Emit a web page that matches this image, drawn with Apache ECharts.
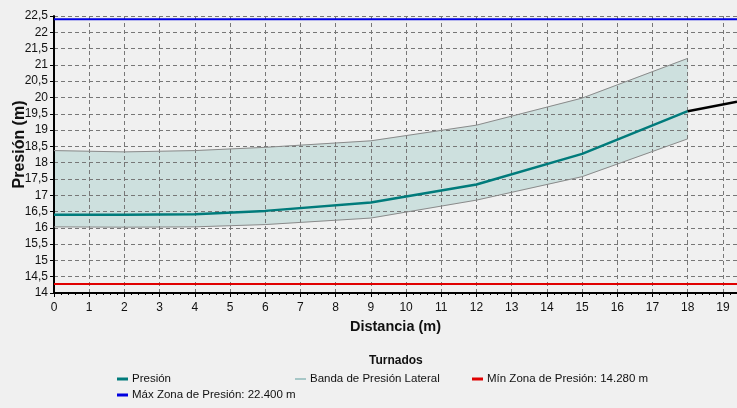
<!DOCTYPE html>
<html><head><meta charset="utf-8">
<script src="https://cdn.jsdelivr.net/npm/echarts@6/dist/echarts.min.js"></script>
<style>html,body{margin:0;padding:0;background:#f0f0f0}#c{width:737px;height:408px}</style>
</head><body><div id="c"></div>
<script>
const distancia = [0, 2, 4, 6, 9, 12, 15, 18];
const presion   = [16.4, 16.4, 16.42, 16.52, 16.78, 17.33, 18.27, 19.58];
const bandaSup  = [18.37, 18.33, 18.37, 18.47, 18.67, 19.15, 19.98, 21.2];
const bandaInf  = [16.03, 16.02, 16.03, 16.1, 16.3, 16.85, 17.57, 18.73];
const colaX     = [18, 19.4];
const colaY     = [19.58, 19.87];
const minZona = 14.28;
const maxZona = 22.4;
const xMin = 0, xMax = 19.4;
const yMin = 14, yMax = 22.5;
const titulo = 'Turnados';
const nombres = ['Presión', 'Banda de Presión Lateral', 'Mín Zona de Presión: 14.280 m', 'Máx Zona de Presión: 22.400 m'];

const pairs = (xs, ys) => xs.map((x, i) => [x, ys[i]]);
const segs = distancia.slice(0, -1).map((x, i) => [x, distancia[i + 1], bandaSup[i], bandaSup[i + 1], bandaInf[i], bandaInf[i + 1]]);
const font = 'Liberation Sans, Arial, sans-serif';

const chart = echarts.init(document.getElementById('c'), null, {renderer: 'canvas'});
const legendBase = (name, left, top, color, h) => ({
  left: left, top: top, orient: 'horizontal', itemWidth: 11, itemHeight: h, itemGap: 4,
  icon: 'rect', padding: 0,
  textStyle: {fontFamily: font, fontSize: 11.5, color: '#111', padding: [0, 0, 0, -1]},
  data: [{name: name, itemStyle: {color: color}}], selectedMode: false
});
chart.setOption({
  backgroundColor: '#f0f0f0',
  animation: false,
  grid: {left: 54, top: 16, right: 0, bottom: 115, containLabel: false, outerBoundsMode: 'none'},
  xAxis: {
    type: 'value', min: xMin, max: xMax, interval: 1, z: 2,
    name: 'Distancia (m)', nameLocation: 'middle', nameGap: 26, nameMoveOverlap: false,
    nameTextStyle: {fontFamily: font, fontSize: 14.5, fontWeight: 'bold', color: '#111'},
    axisLine: {show: true, lineStyle: {color: '#000', width: 2}},
    axisTick: {show: true, length: 4, lineStyle: {color: '#000'}},
    minorTick: {show: true, splitNumber: 5, length: 2, lineStyle: {color: '#000'}},
    axisLabel: {fontFamily: font, fontSize: 12, color: '#111', margin: 9,
      formatter: v => Number.isInteger(v) ? String(v) : ''},
    splitLine: {show: true, lineStyle: {color: '#777', type: [4, 3], width: 1}}
  },
  yAxis: {
    type: 'value', min: yMin, max: yMax, interval: 0.5, z: 2,
    name: 'Presión (m)', nameLocation: 'middle', nameGap: 26, nameRotate: 90, nameMoveOverlap: false,
    nameTextStyle: {fontFamily: font, fontSize: 16, fontWeight: 'bold', color: '#111', padding: [0, 0, 0, 20]},
    axisLine: {show: true, lineStyle: {color: '#000', width: 2}},
    axisTick: {show: true, length: 4, lineStyle: {color: '#000'}},
    axisLabel: {fontFamily: font, fontSize: 12, color: '#111', margin: 6,
      formatter: v => String(v).replace('.', ',')},
    splitLine: {show: true, lineStyle: {color: '#777', type: [4, 3], width: 1}}
  },
  legend: [
    legendBase(nombres[0], 117, 373, '#007b7b', 3),
    legendBase(nombres[1], 295, 373, '#5f9e9e', 1),
    legendBase(nombres[2], 472, 373, '#e00000', 3),
    legendBase(nombres[3], 117, 389, '#0000e0', 3)
  ],
  graphic: [{type: 'text', left: 397 - 28, top: 355,
    style: {text: titulo, font: 'bold 12px ' + font, fill: '#111'}}],
  series: [
    {name: 'bandFill', type: 'custom', data: segs, silent: true, z: 1,
      encode: {x: [0, 1], y: [2, 3, 4, 5]},
      renderItem: (params, api) => {
        const x0 = api.value(0), x1 = api.value(1);
        const pts = [
          api.coord([x0, api.value(2)]), api.coord([x1, api.value(3)]),
          api.coord([x1, api.value(5)]), api.coord([x0, api.value(4)])
        ];
        return {type: 'polygon', shape: {points: pts}, style: {fill: '#cde0de', stroke: '#cde0de', lineWidth: 0.5}};
      }},
    {name: nombres[1], type: 'line', data: pairs(distancia, bandaSup), symbol: 'none',
      color: '#5f9e9e', lineStyle: {color: '#8a8a8a', width: 1}, z: 3},
    {name: 'bandaInf', type: 'line', data: pairs(distancia, bandaInf), symbol: 'none',
      lineStyle: {color: '#8a8a8a', width: 1}, z: 3},
    {name: nombres[0], type: 'line', data: pairs(distancia, presion), symbol: 'none',
      color: '#007b7b', lineStyle: {color: '#007b7b', width: 2.5}, z: 5},
    {name: 'cola', type: 'line', data: pairs(colaX, colaY), symbol: 'none',
      lineStyle: {color: '#000', width: 2.5}, z: 5},
    {name: nombres[2], type: 'line', data: [[xMin, minZona], [xMax, minZona]], symbol: 'none',
      color: '#e00000', lineStyle: {color: '#e00000', width: 2}, z: 4},
    {name: nombres[3], type: 'line', data: [[xMin, maxZona], [xMax, maxZona]], symbol: 'none',
      color: '#0000e0', lineStyle: {color: '#0000e0', width: 2}, z: 4}
  ]
});
</script></body></html>
